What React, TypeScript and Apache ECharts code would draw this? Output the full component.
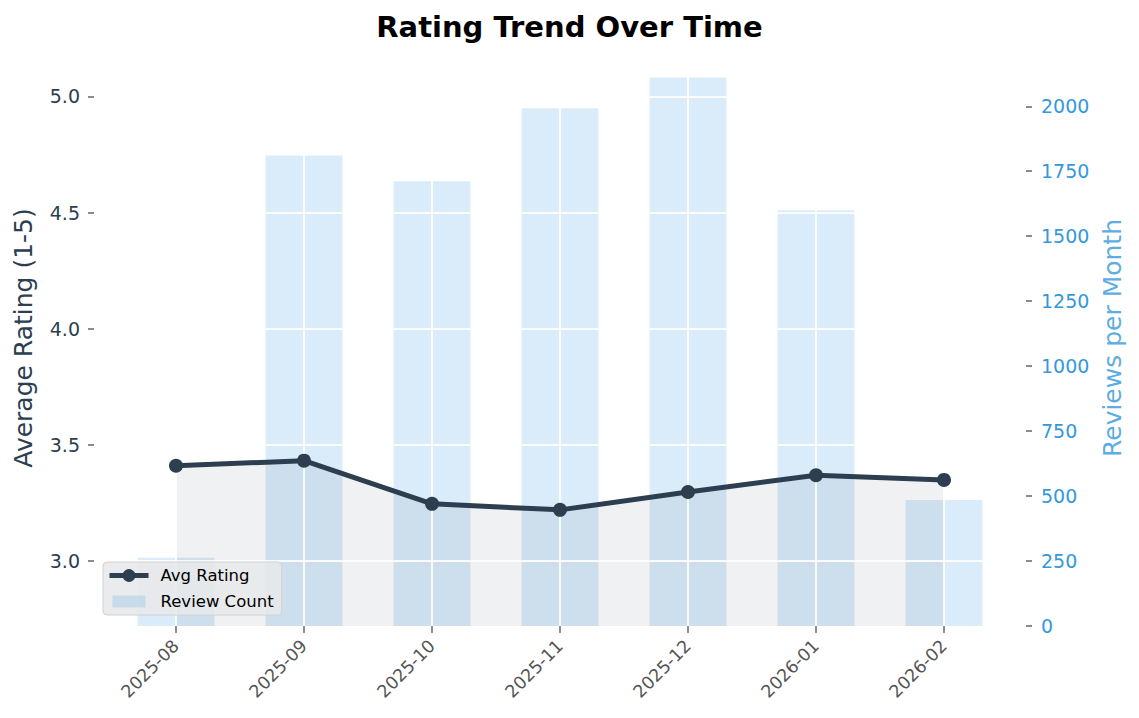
import React, { useEffect, useRef } from "react";
import * as echarts from "echarts";

// Monthly review summary
const months = ["2025-08", "2025-09", "2025-10", "2025-11", "2025-12", "2026-01", "2026-02"];
const avgRating = [3.41, 3.432, 3.246, 3.22, 3.297, 3.369, 3.349];
const reviewCount = [263, 1811, 1711, 1992, 2111, 1600, 485];

// Tick labels
const ratingTicks = [3.0, 3.5, 4.0, 4.5, 5.0];
const countTicks = [0, 250, 500, 750, 1000, 1250, 1500, 1750, 2000];

const FONT = "DejaVu Sans";
const DARK = "#2c3e50";
const BLUE = "#3498db";

// Legend swatch for the bars: a 33x12 block centred in a 39x16 box
const BAR_SWATCH = "path://M0,0L0,0ZM3,2H36V14H3ZM39,16L39,16Z";

export default function App() {
  const ref = useRef<HTMLDivElement>(null);

  useEffect(() => {
    if (!ref.current) return;
    const chart = echarts.init(ref.current, undefined, { renderer: "svg" });

    const ratingMin = Math.min(...avgRating) - 0.5;
    const ratingMax = 5.2;
    const countMax = Math.max(...reviewCount) * 1.05;

    const gridLines = [
      ...ratingTicks.map((v) => ({ yAxis: v })),
      ...months.map((m) => ({ xAxis: m })),
    ];

    chart.setOption({
      animation: false,
      backgroundColor: "#ffffff",
      textStyle: { fontFamily: FONT },
      title: {
        text: "Rating Trend Over Time",
        left: "center",
        top: 7,
        textStyle: { fontFamily: FONT, fontSize: 29, fontWeight: "bold", color: "#000" },
      },
      grid: { left: 112, right: 131, top: 50, bottom: 92, containLabel: false },
      legend: {
        orient: "vertical",
        left: 103,
        top: 562,
        padding: [5, 8, 5, 4],
        itemGap: 9,
        itemWidth: 39,
        itemHeight: 16,
        backgroundColor: "rgba(232,233,234,0.9)",
        borderColor: "#d2d2d2",
        borderWidth: 1,
        borderRadius: 4,
        textStyle: { fontFamily: FONT, fontSize: 16.5, color: "#000", padding: [0, 0, 0, 7] },
        data: [
          { name: "Avg Rating", lineStyle: { width: 5, color: DARK }, itemStyle: { color: DARK } },
          { name: "Review Count", icon: BAR_SWATCH },
        ],
      },
      xAxis: {
        type: "category",
        data: months,
        boundaryGap: true,
        axisLine: { show: false },
        axisTick: { show: true, alignWithLabel: true, length: 7, lineStyle: { color: "#666", width: 1.5 } },
        axisLabel: { rotate: 45, margin: 17, fontSize: 17.5, color: "#555", fontFamily: FONT },
        splitLine: { show: false },
      },
      yAxis: [
        {
          type: "value",
          min: ratingMin,
          max: ratingMax,
          offset: 18,
          position: "left",
          name: "Average Rating (1-5)",
          nameLocation: "middle",
          nameRotate: 90,
          nameGap: 58,
          nameTextStyle: { fontFamily: FONT, fontSize: 25, color: DARK },
          axisLine: { show: false },
          axisTick: { show: true, length: 6, customValues: ratingTicks, lineStyle: { color: "#666", width: 1.5 } },
          axisLabel: {
            customValues: ratingTicks,
            margin: 14,
            fontSize: 19,
            color: DARK,
            fontFamily: FONT,
            formatter: (v: number) => v.toFixed(1),
          },
          splitLine: { show: false },
        },
        {
          type: "value",
          min: 0,
          max: countMax,
          offset: 18,
          position: "right",
          name: "Reviews per Month",
          nameLocation: "middle",
          nameRotate: 90,
          nameGap: 71,
          nameTextStyle: { fontFamily: FONT, fontSize: 25, color: "#5dade2" },
          axisLine: { show: false },
          axisTick: { show: true, length: 6, customValues: countTicks, lineStyle: { color: "#666", width: 1.5 } },
          axisLabel: {
            customValues: countTicks,
            margin: 15,
            fontSize: 19,
            color: BLUE,
            fontFamily: FONT,
            formatter: (v: number) => String(Math.round(v)),
          },
          splitLine: { show: false },
        },
      ],
      series: [
        {
          name: "Review Count",
          type: "bar",
          yAxisIndex: 1,
          data: reviewCount,
          barWidth: "60%",
          itemStyle: { color: "rgba(52,152,219,0.18)" },
          z: 1,
        },
        {
          name: "ratingArea",
          type: "line",
          yAxisIndex: 0,
          data: avgRating,
          showSymbol: false,
          symbol: "none",
          lineStyle: { width: 0, opacity: 0 },
          areaStyle: { origin: "start", color: "rgba(44,62,80,0.1)" },
          silent: true,
          z: 2,
        },
        {
          name: "gridLines",
          type: "line",
          yAxisIndex: 0,
          data: [],
          silent: true,
          z: 3,
          markLine: {
            z: 3,
            silent: true,
            symbol: "none",
            label: { show: false },
            lineStyle: { color: "rgba(255,255,255,0.85)", width: 2, type: "solid" },
            emphasis: { disabled: true },
            data: gridLines,
          },
        },
        {
          name: "Avg Rating",
          type: "line",
          yAxisIndex: 0,
          data: avgRating,
          symbol: "circle",
          symbolSize: 14,
          color: DARK,
          lineStyle: { color: DARK, width: 5 },
          itemStyle: { color: DARK },
          z: 4,
        },
      ],
    });

    return () => chart.dispose();
  }, []);

  return (
    <div
      ref={ref}
      style={{ position: "absolute", left: 0, top: 0, width: 1139, height: 718 }}
    />
  );
}
